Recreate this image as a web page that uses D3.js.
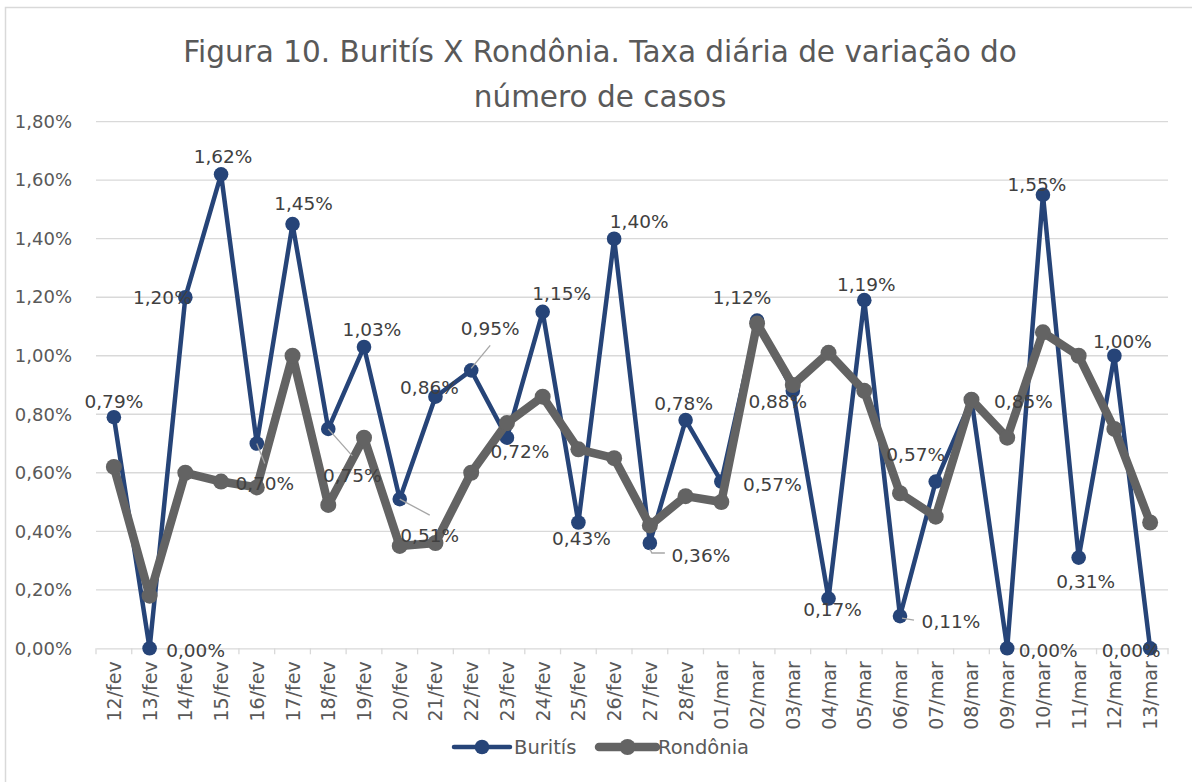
<!DOCTYPE html>
<html>
<head>
<meta charset="utf-8">
<script src="https://cdn.jsdelivr.net/npm/d3@7"></script>
<style>
  body { margin: 0; background: #fff; }
  svg text { font-family: "DejaVu Sans", sans-serif; }
</style>
</head>
<body>
<svg id="chart" width="1192" height="782"></svg>
<script>
const categories = ['12/fev', '13/fev', '14/fev', '15/fev', '16/fev', '17/fev', '18/fev', '19/fev', '20/fev',
  '21/fev', '22/fev', '23/fev', '24/fev', '25/fev', '26/fev', '27/fev', '28/fev', '01/mar', '02/mar',
  '03/mar', '04/mar', '05/mar', '06/mar', '07/mar', '08/mar', '09/mar', '10/mar', '11/mar', '12/mar', '13/mar'];

// taxas em %
const buritis = [0.79, 0.00, 1.20, 1.62, 0.70, 1.45, 0.75, 1.03, 0.51, 0.86, 0.95, 0.72, 1.15, 0.43, 1.40,
  0.36, 0.78, 0.57, 1.12, 0.88, 0.17, 1.19, 0.11, 0.57, 0.85, 0.00, 1.55, 0.31, 1.00, 0.00];
const rondonia = [0.62, 0.18, 0.60, 0.57, 0.55, 1.00, 0.49, 0.72, 0.35, 0.36, 0.60, 0.77, 0.86, 0.68, 0.65,
  0.42, 0.52, 0.50, 1.11, 0.90, 1.01, 0.88, 0.53, 0.45, 0.85, 0.72, 1.08, 1.00, 0.75, 0.43];
const yTicks = [0, 0.2, 0.4, 0.6, 0.8, 1.0, 1.2, 1.4, 1.6, 1.8];

// posição dos rótulos de dados (centro do texto / linha de base, relativo ao ponto)
const labelOffsets = [[0, -9], [46, 9], [-23, 7], [2, -11], [8, 46], [11, -14], [24, 53], [8, -11], [30, 43],
  [-6, -3], [19, -35], [13, 20], [19, -12], [3, 22], [25, -11], [51, 19], [-2, -10], [51, 9], [-15, -17],
  [-15, 17], [4, 17], [2, -9], [51, 12], [-20, -21], [52, 8], [41, 9], [-6, -4], [7, 30], [8, -8], [-19, 9]];
// linhas de chamada: índice -> pontos relativos
const leaders = { 4: [[0, 0], [8, 20]], 6: [[0, 0], [24, 27]], 8: [[0, 0], [30, 16]], 10: [[0, -2], [19, -25]],
  15: [[0, 6], [2, 10], [15, 10]], 22: [[2, 2], [14, 4]] };

const plot = { left: 96, right: 1168, top: 121.7, bottom: 648.3 };

const svg = d3.select('#chart');
const locale = d3.formatLocale({ decimal: ',', thousands: '.', grouping: [3], currency: ['R$', ''] });
const fmt = (v) => locale.format('.2f')(v) + '%';

svg.append('rect').attr('x', 5.5).attr('y', 7.5).attr('width', 1200).attr('height', 800)
  .attr('fill', '#fff').attr('stroke', '#d9d9d9').attr('stroke-width', 1.5);

const x = d3.scaleBand().domain(categories).range([plot.left, plot.right]);
const y = d3.scaleLinear().domain([0, 1.8]).range([plot.bottom, plot.top]);
const cx = (i) => x(categories[i]) + x.bandwidth() / 2;

// título
const title = svg.append('text').attr('text-anchor', 'middle').attr('fill', '#595959')
  .attr('font-size', 29.5);
title.append('tspan').attr('x', 600).attr('y', 62).text('Figura 10. Buritís X Rondônia. Taxa diária de variação do');
title.append('tspan').attr('x', 600).attr('y', 107).text('número de casos');

// grade
svg.append('g').selectAll('line').data(yTicks.slice(1)).join('line')
  .attr('x1', plot.left).attr('x2', plot.right)
  .attr('y1', (d) => y(d)).attr('y2', (d) => y(d))
  .attr('stroke', '#d9d9d9').attr('stroke-width', 1.3);

// eixo y
const yAxis = svg.append('g').attr('transform', `translate(${plot.left},0)`)
  .call(d3.axisLeft(y).tickValues(yTicks).tickSize(0).tickPadding(24).tickFormat(fmt));
yAxis.select('.domain').remove();
yAxis.selectAll('text').attr('font-size', 18).attr('fill', '#595959');

// eixo x
const xAxis = svg.append('g').attr('transform', `translate(0,${plot.bottom})`)
  .call(d3.axisBottom(x).tickSize(0));
xAxis.select('.domain').attr('stroke', '#d9d9d9').attr('stroke-width', 1.3);
xAxis.selectAll('text').attr('font-size', 19).attr('fill', '#595959')
  .attr('text-anchor', 'end').attr('dy', null)
  .attr('transform', 'translate(0,13) rotate(-90)').attr('dominant-baseline', 'central').attr('y', 0).attr('x', 0);
svg.append('g').selectAll('line').data(d3.range(categories.length + 1)).join('line')
  .attr('x1', (i) => plot.left + i * x.bandwidth()).attr('x2', (i) => plot.left + i * x.bandwidth())
  .attr('y1', plot.bottom).attr('y2', plot.bottom + 6)
  .attr('stroke', '#d9d9d9').attr('stroke-width', 1.3);

const line = d3.line().x((d, i) => cx(i)).y((d) => y(d));

const series = [
  { name: 'Buritís', values: buritis, color: '#264478', width: 4.5, r: 7.3 },
  { name: 'Rondônia', values: rondonia, color: '#636363', width: 8.5, r: 8 },
];

series.forEach((s) => {
  svg.append('path').datum(s.values).attr('d', line)
    .attr('fill', 'none').attr('stroke', s.color).attr('stroke-width', s.width)
    .attr('stroke-linejoin', 'round').attr('stroke-linecap', 'round');
  svg.append('g').selectAll('circle').data(s.values).join('circle')
    .attr('cx', (d, i) => cx(i)).attr('cy', (d) => y(d)).attr('r', s.r).attr('fill', s.color);
});

// linhas de chamada
Object.keys(leaders).forEach((k) => {
  const i = +k;
  const pts = leaders[k].map((p) => [cx(i) + p[0], y(buritis[i]) + p[1]]);
  svg.append('path').attr('d', d3.line()(pts)).attr('fill', 'none')
    .attr('stroke', '#a6a6a6').attr('stroke-width', 1.3);
});

// rótulos de dados
svg.append('g').selectAll('text').data(buritis).join('text')
  .attr('x', (d, i) => cx(i) + labelOffsets[i][0])
  .attr('y', (d, i) => y(d) + labelOffsets[i][1])
  .attr('text-anchor', 'middle').attr('font-size', 18.5).attr('fill', '#404040')
  .text((d) => fmt(d));

// legenda
const legend = svg.append('g');
const legendItems = [
  { s: series[0], x0: 454, x1: 510, tx: 514 },
  { s: series[1], x0: 599, x1: 656, tx: 658 },
];
legendItems.forEach((it) => {
  legend.append('line').attr('x1', it.x0).attr('x2', it.x1).attr('y1', 747).attr('y2', 747)
    .attr('stroke', it.s.color).attr('stroke-width', it.s.width).attr('stroke-linecap', 'round');
  legend.append('circle').attr('cx', (it.x0 + it.x1) / 2).attr('cy', 747).attr('r', it.s.r).attr('fill', it.s.color);
  legend.append('text').attr('x', it.tx).attr('y', 747).attr('dy', '0.35em')
    .attr('font-size', 19.5).attr('fill', '#595959').text(it.s.name);
});
</script>
</body>
</html>
